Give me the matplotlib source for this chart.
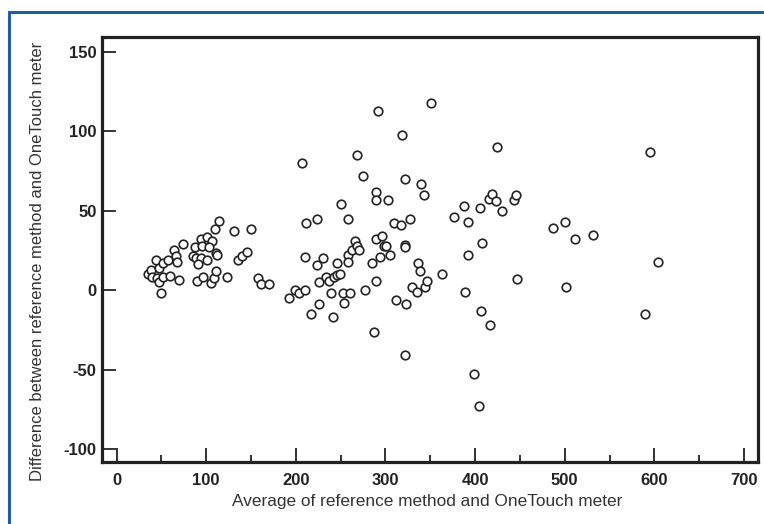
import matplotlib
matplotlib.use("Agg")
import matplotlib.pyplot as plt
from matplotlib.patches import Rectangle
from matplotlib.ticker import MultipleLocator

# Bland-Altman style data: average (x) vs difference (y)
avg_low = [35, 39, 40, 44, 45.5, 47, 47, 50, 51.5, 52, 57, 60, 64, 66, 67, 70,
           74.5, 94, 100.6, 107, 87.6, 95.7, 103, 111, 112, 85.7, 88.3, 94.3,
           101.3, 91.3, 89.5, 96.2, 105, 109, 111, 123, 110, 114.3, 131, 135,
           139.7, 146, 150.4, 158, 161, 170.5]
diff_low = [10, 13, 8.4, 19, 7.8, 13.7, 5.2, -2, 16.8, 8, 19.3, 9, 25.2, 21.4, 17.8, 6.3,
            29.1, 32.3, 33.2, 31, 27.3, 27.9, 26.9, 23.1, 22, 21.4, 20, 20.3,
            18.9, 16.2, 5.9, 8.2, 4.6, 7.7, 12.2, 8.2, 38.8, 43.4, 37.3, 19.3,
            21.4, 23.9, 38.2, 7.4, 3.8, 3.8]

avg_high = [192, 199, 204, 210, 207, 211, 210.5, 217, 224, 223.5, 226, 226, 230,
            234, 237, 243, 246, 249, 246, 239, 242, 250, 253, 254, 260, 258, 258,
            258, 263, 266, 268.5, 270, 268, 275, 277, 285, 287, 289, 289, 289,
            290, 292, 294, 296, 298, 301, 303, 305, 310, 312, 317, 319, 322, 322,
            322, 323, 322, 327, 330, 335, 336, 339, 340, 343, 344, 346, 351,
            363.5, 376.5, 388, 389, 392, 392.5, 399, 404, 405.5, 407.5, 407,
            415.5, 417, 419, 423.5, 424, 430, 443, 446, 447, 487, 500, 501, 511,
            531.5, 590, 595.5, 604]
diff_high = [-5, 0, -2, 0, 80, 42, 21, -15, 45, 16, 5, -9, 20,
             8, 6, 8.5, 9.5, 10, 17, -2, -17, 54, -2, -8, -2, 45, 22,
             18, 25, 31, 28, 25, 85, 72, 0, 17, -26.5, 62, 57, 32,
             6, 113, 21, 34, 28, 28, 57, 22, 42, -6, 41, 98, 70, 28.5,
             27, -9, -41, 45, 2, -1, 17, 12, 67, 60, 2, 5.5, 118,
             10, 46, 53, -1, 22, 43, -53, -73, 52, 30, -13,
             57.5, -22, 60.5, 56, 90, 50, 57, 60, 7, 39, 43, 2, 32,
             35, -15, 87, 18]

x = avg_low + avg_high
y = diff_low + diff_high

plt.rcParams['font.family'] = ['Liberation Sans', 'DejaVu Sans']
plt.rcParams['axes.unicode_minus'] = False  # reference uses plain hyphens

fig = plt.figure(figsize=(7.64, 5.24), dpi=100)
ax = fig.add_axes([102 / 764, 1 - 462 / 524, 656 / 764, 425 / 524])

ax.scatter(x, y, s=38, facecolors='white', edgecolors='#222222', linewidths=1.2, zorder=3)

ax.set_xlim(-16.2, 715.6)
ax.set_ylim(-108.2, 159.4)
ax.xaxis.set_major_locator(MultipleLocator(100))
ax.xaxis.set_minor_locator(MultipleLocator(50))
ax.yaxis.set_major_locator(MultipleLocator(50))

for s in ax.spines.values():
    s.set_linewidth(2.3)
    s.set_color('#222222')

ax.tick_params(axis='both', which='major', direction='in', length=10, width=1.3,
               color='#222222', labelsize=12, labelcolor='#222222')
ax.tick_params(axis='x', which='minor', direction='in', length=5, width=1.3, color='#222222')
ax.tick_params(axis='x', which='both', top=False, pad=8)
ax.tick_params(axis='y', which='both', right=False, pad=4)
for lab in ax.get_xticklabels() + ax.get_yticklabels():
    lab.set_fontweight('bold')

ax.set_xlabel('Average of reference method and OneTouch meter', fontsize=12.4,
              color='#333333')
ax.set_ylabel('Difference between reference method and OneTouch meter', fontsize=12,
              color='#333333')
ax.xaxis.set_label_coords(0.495, -0.093, transform=ax.transAxes)
ax.yaxis.set_label_coords(-0.098, 0.473, transform=ax.transAxes)
ax.xaxis.label.set_va('center')
ax.yaxis.label.set_va('center')

# blue frame around the figure
fig.patches.append(Rectangle((9 / 764, -0.1), 1.2, 1 - 12 / 524 + 0.1,
                             transform=fig.transFigure, fill=False,
                             edgecolor='#1f5fa6', linewidth=2.2))

fig.savefig('out.png', dpi=100)
